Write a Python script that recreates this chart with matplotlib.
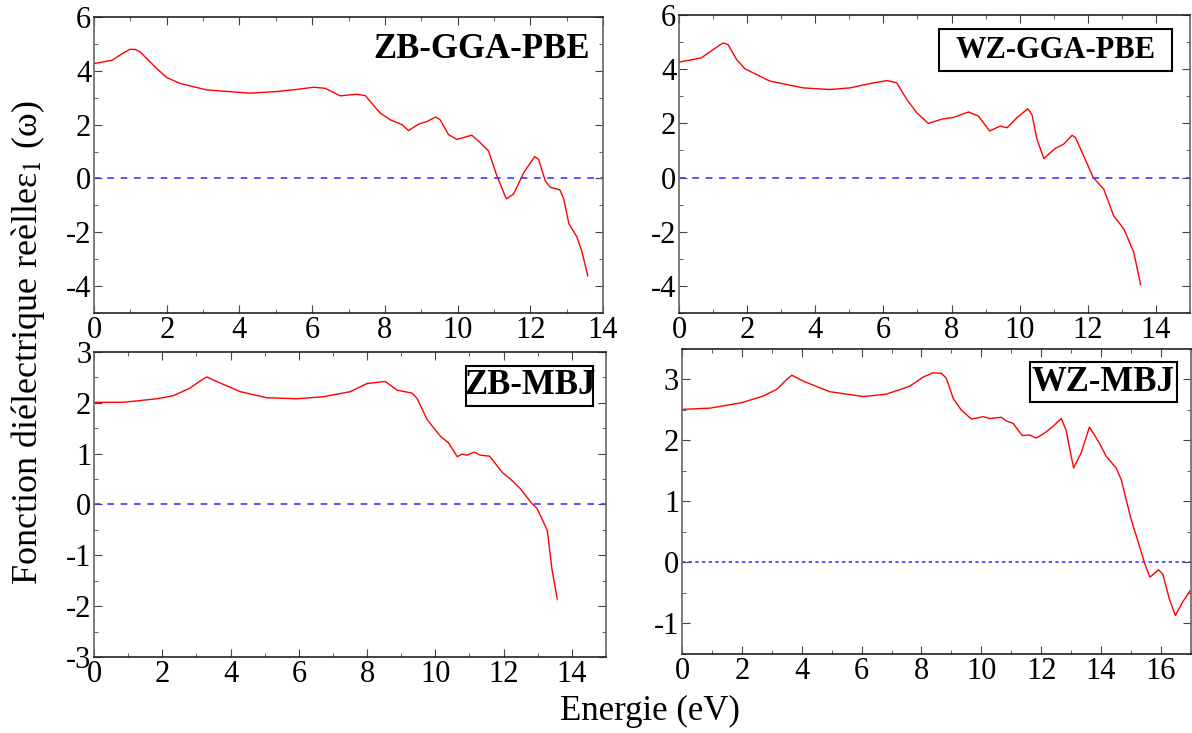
import matplotlib
matplotlib.use("Agg")
import matplotlib.pyplot as plt
from matplotlib.patches import Rectangle
from matplotlib.ticker import MultipleLocator

plt.rcParams["font.family"] = ["Liberation Serif", "DejaVu Serif"]
plt.rcParams["mathtext.fontset"] = "stix"
plt.rcParams["axes.unicode_minus"] = False

# ZB-GGA-PBE
zb_gga_e = [0, 0.49, 0.8, 0.99, 1.15, 1.27, 1.72, 2.0, 2.37, 3.1, 4.29, 5.03, 5.58, 6.04,
            6.36, 6.77, 7.23, 7.46, 7.87, 8.15, 8.47, 8.65, 8.93, 9.16, 9.39, 9.52,
            9.75, 9.98, 10.39, 10.62, 10.85, 11.08, 11.34, 11.54, 11.82, 12.12, 12.23,
            12.41, 12.55, 12.81, 12.92, 13.06, 13.28, 13.42, 13.58]
zb_gga_eps = [4.27, 4.39, 4.66, 4.80, 4.79, 4.70, 4.09, 3.75, 3.53, 3.29, 3.17, 3.23, 3.31,
              3.39, 3.35, 3.07, 3.13, 3.08, 2.43, 2.18, 2.0, 1.78, 2.02, 2.12, 2.28,
              2.18, 1.63, 1.45, 1.61, 1.33, 1.02, 0.1, -0.76, -0.58, 0.22, 0.81, 0.71,
              -0.09, -0.33, -0.42, -0.76, -1.68, -2.17, -2.72, -3.62]

# WZ-GGA-PBE
wz_gga_e = [0, 0.66, 1.0, 1.29, 1.44, 1.69, 1.93, 2.67, 3.65, 4.43, 5.02, 5.61, 6.1,
            6.39, 6.69, 6.98, 7.32, 7.76, 8.06, 8.5, 8.79, 9.12, 9.43, 9.63, 9.92,
            10.24, 10.36, 10.51, 10.71, 11.05, 11.29, 11.54, 11.64, 11.88, 12.16,
            12.47, 12.76, 13.06, 13.35, 13.55]
wz_gga_eps = [4.26, 4.42, 4.72, 4.97, 4.91, 4.36, 4.02, 3.56, 3.31, 3.25, 3.31, 3.47, 3.58,
              3.50, 2.88, 2.39, 2.0, 2.17, 2.22, 2.42, 2.27, 1.72, 1.90, 1.84, 2.21,
              2.54, 2.33, 1.41, 0.70, 1.08, 1.23, 1.56, 1.47, 0.80, 0.0,
              -0.43, -1.41, -1.90, -2.76, -3.95]

# ZB-MBJ
zb_mbj_e = [0, 0.86, 1.84, 2.32, 2.81, 3.11, 3.3, 3.59, 4.28, 5.06, 5.94, 6.72, 7.51,
            8.0, 8.53, 8.88, 9.32, 9.46, 9.76, 10.15, 10.39, 10.64, 10.78, 10.93,
            11.14, 11.32, 11.59, 11.96, 12.2, 12.49, 12.79, 12.98, 13.28, 13.42, 13.57]
zb_mbj_eps = [2.01, 2.01, 2.08, 2.14, 2.29, 2.43, 2.51, 2.42, 2.22, 2.10, 2.08, 2.12, 2.22,
              2.38, 2.42, 2.25, 2.19, 2.09, 1.67, 1.34, 1.21, 0.94, 0.99, 0.97,
              1.03, 0.97, 0.95, 0.63, 0.5, 0.31, 0.05, -0.08, -0.51, -1.29, -1.86]

# WZ-MBJ
wz_mbj_e = [0, 0.94, 2.0, 2.72, 3.17, 3.5, 3.67, 4.06, 4.94, 6.06, 6.83, 7.61, 8.06,
            8.39, 8.67, 8.83, 9.06, 9.33, 9.67, 10.06, 10.28, 10.67, 10.83, 11.06,
            11.37, 11.61, 11.83, 12.11, 12.39, 12.67, 12.83, 13.08, 13.33, 13.61,
            13.94, 14.17, 14.5, 14.67, 15.0, 15.28, 15.48, 15.63, 15.92, 16.06,
            16.28, 16.48, 16.72, 16.98]
wz_mbj_eps = [2.51, 2.53, 2.62, 2.73, 2.84, 3.0, 3.07, 2.97, 2.80, 2.72, 2.76, 2.89, 3.04,
              3.11, 3.10, 3.02, 2.69, 2.5, 2.35, 2.39, 2.36, 2.38, 2.32, 2.28,
              2.08, 2.09, 2.04, 2.12, 2.23, 2.36, 2.17, 1.55, 1.79, 2.22,
              1.96, 1.74, 1.55, 1.36, 0.71, 0.27, -0.05, -0.24, -0.12, -0.19,
              -0.60, -0.87, -0.65, -0.46]

panels = [
    # data, axes rect, xlim, ylim, y major, label, box, zero style
    (zb_gga_e, zb_gga_eps, [0.0789, 0.5730, 0.4270, 0.4038], (0, 14), (-5, 6), 2,
     "ZB-GGA-PBE", None, (0, (4, 4))),
    (wz_gga_e, wz_gga_eps, [0.5696, 0.5730, 0.4287, 0.4065], (0, 15), (-5, 6), 2,
     "WZ-GGA-PBE", (0.509, 0.812, 0.965, 0.953), (0, (4, 4))),
    (zb_mbj_e, zb_mbj_eps, [0.0789, 0.1037, 0.4295, 0.4161], (0, 15), (-3, 3), 1,
     "ZB-MBJ", (0.727, 0.823, 0.975, 0.954), (0, (4, 4))),
    (wz_mbj_e, wz_mbj_eps, [0.5721, 0.1078, 0.4270, 0.4161], (0, 17), (-1.5, 3.5), 1,
     "WZ-MBJ", (0.684, 0.826, 0.972, 0.957), (0, (2, 2))),
]

fig = plt.figure(figsize=(11.92, 7.33), dpi=100)

for e, eps, rect, xlim, ylim, ymaj, label, box, zstyle in panels:
    ax = fig.add_axes(rect)
    ax.plot(e, eps, color="red", lw=1.0)
    ax.axhline(0, color="#3a3aff", lw=1.2, linestyle=zstyle)
    ax.set_xlim(*xlim)
    ax.set_ylim(*ylim)
    ax.xaxis.set_major_locator(MultipleLocator(2))
    ax.xaxis.set_minor_locator(MultipleLocator(1))
    ax.yaxis.set_major_locator(MultipleLocator(ymaj))
    ax.yaxis.set_minor_locator(MultipleLocator(ymaj / 2))
    ax.tick_params(which="both", direction="in", top=True, right=True,
                   color="#444444", labelsize=22, pad=2)
    ax.tick_params(which="major", length=6)
    ax.tick_params(which="minor", length=3)
    for side, s in ax.spines.items():
        s.set_color("#666666" if side in ("left", "right") else "#222222")
        s.set_linewidth(1.2)
    if box is None:
        ax.text(0.762, 0.889, label, transform=ax.transAxes, ha="center",
                va="center", fontsize=25, fontweight="bold")
    else:
        x0, y0, x1, y1 = box
        ax.add_patch(Rectangle((x0, y0), x1 - x0, y1 - y0, transform=ax.transAxes,
                               facecolor="white", edgecolor="black", lw=1.5, zorder=5))
        fs = 22 if "GGA" in label else 25
        ax.text((x0 + x1) / 2, (y0 + y1) / 2, label, transform=ax.transAxes,
                ha="center", va="center", fontsize=fs, fontweight="bold", zorder=6)

fig.text(0.545, 0.029, "Energie (eV)", ha="center", va="center", fontsize=25)
fig.text(0.0235, 0.533, "Fonction diélectrique reèlleε$_1$ (ω)", ha="center",
         va="center", rotation=90, fontsize=26)

fig.savefig("out.png", dpi=100)
